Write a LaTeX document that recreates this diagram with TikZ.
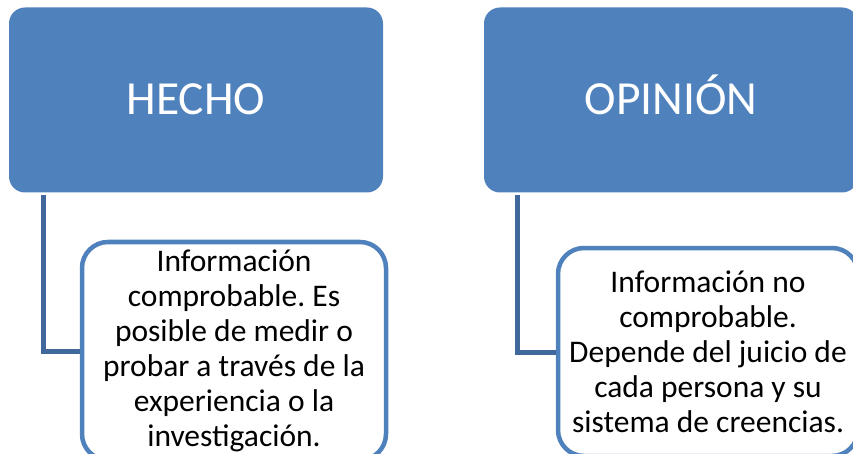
\documentclass[tikz,border=0pt]{standalone}
\usepackage{fontspec}
\setmainfont{Carlito}
\frenchspacing
\definecolor{boxblue}{HTML}{4F81BD}
\definecolor{connblue}{HTML}{41689C}
\begin{document}
\begin{tikzpicture}[x=1pt,y=-1pt,
  parent/.style={fill=boxblue, draw=none, rounded corners=16pt, minimum width=374pt, minimum height=185pt, text=white, font=\fontsize{47.5}{57}\selectfont, inner sep=0pt, text height=30pt, text depth=0pt},
  child/.style={fill=white, draw=boxblue, line width=4.5pt, rounded corners=26pt, align=center, font=\fontsize{31.5}{35}\selectfont, inner sep=0pt, text=black},
  conn/.style={draw=connblue, line width=5pt}]
\useasboundingbox (0,0) rectangle (853,454);
\node[parent] (hecho) at (196,100) {HECHO};
\node[parent] (opinion) at (671,100) {OPINIÓN};
\node[child, minimum width=304pt, minimum height=218pt] (info1) at (234,351) {Información\\comprobable. Es\\posible de medir o\\probar a través de la\\experiencia o la\\investigación.};
\node[child, minimum width=300pt, minimum height=208pt] (info2) at (708,352) {Información no\\comprobable.\\Depende del juicio de\\cada persona y su\\sistema de creencias.};
\draw[conn] ([xshift=35pt,yshift=-2pt]hecho.south west) |- (info1.west);
\draw[conn] ([xshift=34pt,yshift=-2pt]opinion.south west) |- (info2.west);
\end{tikzpicture}
\end{document}
